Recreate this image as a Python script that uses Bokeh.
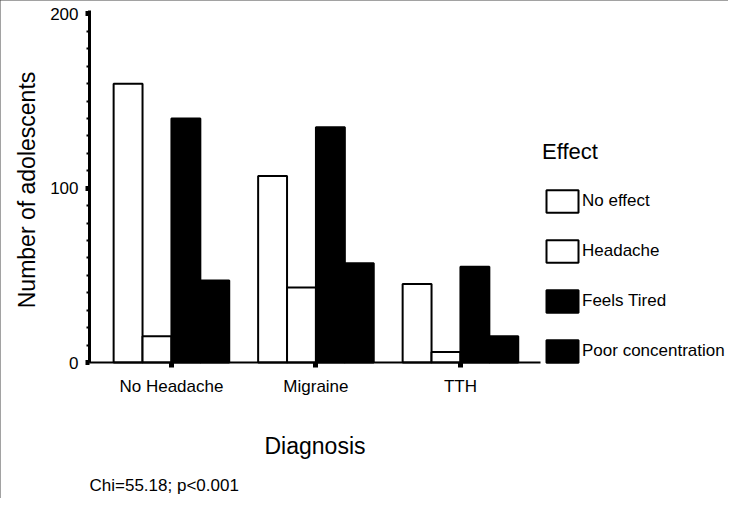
import numpy as np
from bokeh.plotting import figure
from bokeh.models import (ColumnDataSource, Range1d, FixedTicker, SingleIntervalTicker,
                          Legend, LegendItem, Label)
from bokeh.transform import dodge
from bokeh.embed import file_html
from bokeh.resources import INLINE

# ---- data ----
categories = ["No Headache", "Migraine", "TTH"]
effects = ["No effect", "Headache", "Feels Tired", "Poor concentration"]
no_effect = [160, 107, 45]
headache = [15, 43, 6]
feels_tired = [140, 135, 55]
poor_concentration = [47, 57, 15]
fills = ["white", "white", "black", "black"]
y_ticks_interval = 100
y_title = "Number of adolescents"
x_title = "Diagnosis"
legend_title = "Effect"
note = "Chi=55.18; p<0.001"

FONT = "Liberation Sans"

source = ColumnDataSource(dict(
    x=list(range(len(categories))),
    no_effect=no_effect,
    headache=headache,
    feels_tired=feels_tired,
    poor_concentration=poor_concentration,
))

# axes span x -0.567 .. 2.554 and y 0 .. 202; the frame covers the whole canvas
x_axis_bounds = (-0.567, 2.554)
y_axis_bounds = (0, 202)
p = figure(width=728, height=498, output_backend="svg", toolbar_location=None,
           x_range=Range1d(-1.1829, 3.855), y_range=Range1d(-78.04, 207.74),
           min_border_left=0, min_border_top=0, min_border_bottom=0,
           min_border_right=0)
p.xgrid.visible = False
p.ygrid.visible = False
p.outline_line_color = None
p.background_fill_color = "white"
p.border_fill_color = "white"
p.styles = {"outline": "1px solid #444", "outline-offset": "-1px"}

cols = ["no_effect", "headache", "feels_tired", "poor_concentration"]
offsets = [-0.3, -0.1, 0.1, 0.3]
renderers = []
for col, off, fc in zip(cols, offsets, fills):
    r = p.vbar(x=dodge("x", off, range=p.x_range), top=col, width=0.2, bottom=0,
               source=source, fill_color=fc, line_color="black", line_width=2)
    renderers.append(r)

# y axis, drawn at the left end of the x axis
ya = p.yaxis[0]
ya.fixed_location = x_axis_bounds[0]
ya.bounds = y_axis_bounds
ya.ticker = SingleIntervalTicker(interval=y_ticks_interval, num_minor_ticks=10)
ya.axis_line_width = 3
ya.axis_line_color = "black"
ya.major_tick_line_width = 5
ya.major_tick_in = 0
ya.major_tick_out = 4
ya.minor_tick_line_width = 2
ya.minor_tick_in = 0
ya.minor_tick_out = 3
ya.major_label_text_font = FONT
ya.major_label_text_font_size = "17px"
ya.major_label_text_color = "black"
ya.major_label_standoff = 7

# x axis, drawn at y = 0
xa = p.xaxis[0]
xa.fixed_location = 0
xa.bounds = x_axis_bounds
xa.ticker = FixedTicker(ticks=list(range(len(categories))))
xa.major_label_overrides = {i: c for i, c in enumerate(categories)}
xa.axis_line_width = 2
xa.axis_line_color = "black"
xa.major_tick_line_width = 5
xa.major_tick_in = 0
xa.major_tick_out = 5
xa.minor_tick_line_color = None
xa.major_label_text_font = FONT
xa.major_label_text_font_size = "17px"
xa.major_label_text_color = "black"
xa.major_label_standoff = 9
xa.axis_label = x_title
xa.axis_label_text_font = FONT
xa.axis_label_text_font_size = "23px"
xa.axis_label_text_font_style = "normal"
xa.axis_label_text_color = "black"
xa.axis_label_standoff = 34

# y axis title, centred on the y axis
p.add_layout(Label(x=26, y=sum(y_axis_bounds) / 2 - 2, x_units="screen", y_units="data",
                   text=y_title, angle=np.pi / 2, text_align="center",
                   text_baseline="middle", text_font=FONT, text_font_size="23px",
                   text_color="black"))

legend = Legend(
    items=[LegendItem(label=e, renderers=[r]) for e, r in zip(effects, renderers)],
    location=(542, 127),
    title=legend_title,
    title_text_font=FONT, title_text_font_size="22px", title_text_font_style="normal",
    title_text_color="black", title_standoff=16,
    label_text_font=FONT, label_text_font_size="17px", label_text_color="black",
    glyph_width=40, glyph_height=28, label_height=40, label_standoff=0,
    spacing=10, padding=0, margin=0,
    border_line_color=None, background_fill_alpha=0,
)
p.add_layout(legend)

p.add_layout(Label(x=89, y=-70.5, x_units="screen", y_units="data", text=note,
                   text_font=FONT, text_font_size="17px", text_color="black",
                   text_baseline="middle"))

open("out.html", "w").write(file_html(p, INLINE))
